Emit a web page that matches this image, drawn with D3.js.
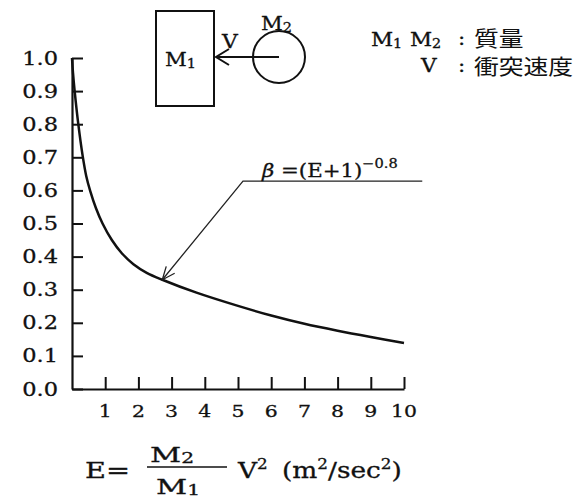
<!DOCTYPE html>
<html><head><meta charset="utf-8">
<script src="https://cdn.jsdelivr.net/npm/d3@7"></script>
<style>
body{margin:0;background:#fff;}
svg{display:block;}
text{font-family:"DejaVu Serif",serif;fill:#111;stroke:#111;stroke-width:0.3;}
.cjk{font-family:"Noto Sans CJK JP",sans-serif;stroke:none;}
</style></head>
<body>
<svg id="chart" width="588" height="498"></svg>
<script>
// Data
const energyE = [0, 0.03, 0.08, 0.19, 0.32, 0.43, 0.55, 0.72, 0.92, 1.2, 1.5, 1.85, 2.25, 2.72, 3.75, 5, 6, 7, 8, 9, 10];
const betaValues = [1.0, 0.955, 0.9, 0.8, 0.705, 0.643, 0.598, 0.547, 0.5, 0.45, 0.41, 0.377, 0.351, 0.330, 0.291, 0.251, 0.222, 0.197, 0.176, 0.157, 0.139];
const xTicks = [1,2,3,4,5,6,7,8,9,10];
const yTicks = [0,0.1,0.2,0.3,0.4,0.5,0.6,0.7,0.8,0.9,1.0];
const arrowTip = [2.72, 0.33];
const arrowElbow = [5.15, 0.628];
const arrowEnd = [10.55, 0.628];

const svg = d3.select("#chart");
const x = d3.scaleLinear().domain([0,10]).range([72,404]);
const y = d3.scaleLinear().domain([0,1]).range([389,58]);

// helper: horizontally stretched text (the reference lettering is wide)
function T(px, py, size, sx, anchor, cls){
  const t = svg.append("text")
    .attr("transform",`translate(${px},${py}) scale(${sx},1)`)
    .attr("font-size",size).attr("text-anchor",anchor||"start");
  if(cls) t.attr("class",cls);
  return t;
}
function sub(t, s, size, dy){ t.append("tspan").attr("font-size",size).attr("dy",dy).text(s); return t; }

// axes
const yAxis = d3.axisRight(y).tickValues(yTicks).tickSize(11).tickSizeOuter(0).tickFormat("");
const gy = svg.append("g").attr("transform",`translate(${x(0)},0)`).call(yAxis);
gy.select(".domain").attr("stroke","#111").attr("stroke-width",2.2);
gy.selectAll(".tick line").attr("stroke","#111").attr("stroke-width",2);
const xAxis = d3.axisTop(x).tickValues(xTicks).tickSize(12).tickSizeOuter(0).tickFormat("");
const gx = svg.append("g").attr("transform",`translate(0,${y(0)})`).call(xAxis);
gx.select(".domain").attr("stroke","#111").attr("stroke-width",2.2);
gx.selectAll(".tick line").attr("stroke","#111").attr("stroke-width",2);

// tick labels
yTicks.forEach(v => T(58, y(v)+6.5, 18, 1.25, "end").text(v.toFixed(1)));
xTicks.forEach(v => T(x(v), 417, 17, 1.2, "middle").text(v));

// curve
const pts = energyE.map((e,i)=>[e,betaValues[i]]);
svg.append("path").datum(pts)
  .attr("d", d3.line().x(d=>x(d[0])).y(d=>y(d[1])).curve(d3.curveCatmullRom.alpha(0.5)))
  .attr("fill","none").attr("stroke","#111").attr("stroke-width",2.5);

// annotation arrow
const tip=[x(arrowTip[0]),y(arrowTip[1])], elb=[x(arrowElbow[0]),y(arrowElbow[1])], end=[x(arrowEnd[0]),y(arrowEnd[1])];
svg.append("polyline").attr("points",[end,elb,tip].map(p=>p.join(",")).join(" "))
  .attr("fill","none").attr("stroke","#222").attr("stroke-width",1.3);
{
  const ang=Math.atan2(elb[1]-tip[1], elb[0]-tip[0]);
  const L=14, a=0.4;
  const p1=[tip[0]+L*Math.cos(ang+a), tip[1]+L*Math.sin(ang+a)];
  const p2=[tip[0]+L*Math.cos(ang-a), tip[1]+L*Math.sin(ang-a)];
  svg.append("polyline").attr("points",[p1,tip,p2].map(p=>p.join(",")).join(" "))
    .attr("fill","none").attr("stroke","#222").attr("stroke-width",1.3);
}
const ann = T(262, 177, 19, 1.12, "start");
ann.append("tspan").attr("font-style","italic").text("β");
ann.append("tspan").text(" =(E+1)");
sub(ann, "−0.8", 13, -9);

// diagram
svg.append("rect").attr("x",156).attr("y",11).attr("width",58).attr("height",95)
  .attr("fill","none").attr("stroke","#111").attr("stroke-width",2);
sub(T(165, 66, 19, 1.12, "start").text("M"), "1", 13, 2);
svg.append("circle").attr("cx",279).attr("cy",57).attr("r",26)
  .attr("fill","none").attr("stroke","#111").attr("stroke-width",2);
svg.append("line").attr("x1",279).attr("y1",57).attr("x2",216).attr("y2",57)
  .attr("stroke","#111").attr("stroke-width",2);
svg.append("polyline").attr("points","229,49 216,57 229,65")
  .attr("fill","none").attr("stroke","#111").attr("stroke-width",2);
T(222, 48, 19, 1.15, "start").text("V");
sub(T(261, 30, 19, 1.12, "start").text("M"), "2", 13, 2);

// legend text
sub(T(371, 46, 18, 1.2, "start").text("M"), "1", 12, 2);
sub(T(410, 46, 18, 1.2, "start").text("M"), "2", 12, 2);
T(458, 45, 18, 1.2, "start").text(":");
T(474, 46, 21, 1.18, "start", "cjk").text("質量");
T(421, 72, 18, 1.2, "start").text("V");
T(458, 72, 18, 1.2, "start").text(":");
T(474, 74, 21, 1.18, "start", "cjk").text("衝突速度");

// x-axis title
T(85, 478, 23, 1.25, "start").text("E=");
sub(T(150, 462, 21, 1.45, "start").text("M"), "2", 14, 1);
svg.append("line").attr("x1",147).attr("x2",227).attr("y1",467).attr("y2",467)
  .attr("stroke","#111").attr("stroke-width",1.5);
sub(T(156, 494, 21, 1.45, "start").text("M"), "1", 14, 1);
sub(T(238, 478, 22, 1.2, "start").text("V"), "2", 14, -9);
const ut = T(282, 478, 22, 1.2, "start");
ut.append("tspan").text("(m");
sub(ut, "2", 14, -9);
ut.append("tspan").attr("dy",9).text("/sec");
sub(ut, "2", 14, -9);
ut.append("tspan").attr("dy",9).text(")");
</script>
</body></html>
